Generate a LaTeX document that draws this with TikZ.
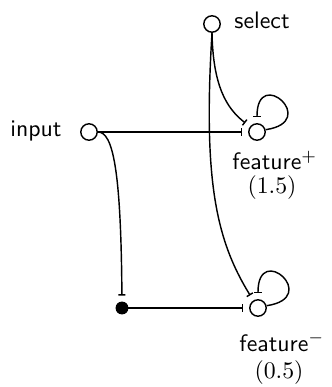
\documentclass[tikz,border=0pt]{standalone}
\usetikzlibrary{arrows.meta}
\begin{document}
\begin{tikzpicture}[x=0.42pt,y=-0.42pt,
  state/.style={circle,draw,line width=0.6pt,minimum size=6.9pt,inner sep=0pt},
  dotnode/.style={circle,fill=black,draw,line width=0.6pt,minimum size=4.8pt,inner sep=0pt},
  lbl/.style={inner sep=0pt,font=\sffamily},
  inh/.style={line width=0.6pt,-{Bar[width=3pt,line width=0.6pt]},shorten >=2.5pt},
  wire/.style={line width=0.6pt}]
\useasboundingbox (0,0) rectangle (331,387);
% nodes
\node[state] (sel) at (212,24) {};
\node[state] (inp) at (89,132) {};
\node[state] (fp) at (257,132) {};
\node[state] (fm) at (258,308) {};
\node[dotnode] (dot) at (122,308) {};
% labels
\node[lbl,anchor=base west] (sellbl) at (234,29) {select};
\node[lbl,anchor=base east] (inplbl) at (62,137) {input};
\node[lbl,anchor=base west] (fplbl) at (232,170) {feature$^+$};
\node[lbl,anchor=base] (fpval) at (272,193) {$(1.5)$};
\node[lbl,anchor=base west] (fmlbl) at (239,351) {feature$^-$};
\node[lbl,anchor=base] (fmval) at (279,378) {$(0.5)$};
% connectors
\draw[inh] (inp) -- (fp);
\draw[inh] (inp.east) .. controls (113,132) and (121,170) .. (dot);
\draw[inh] (dot) -- (fm);
\draw[inh] (sel.south) .. controls (213,85) and (226,108) .. (fp);
\draw[inh] (sel.south) .. controls (203,180) and (216,240) .. (fm);
% self loops
\draw[inh] (fp.15) .. controls +(55,-8) and +(0,-58) .. (fp.north);
\draw[inh] (fm.15) .. controls +(55,-8) and +(0,-58) .. (fm.north);
\end{tikzpicture}
\end{document}
